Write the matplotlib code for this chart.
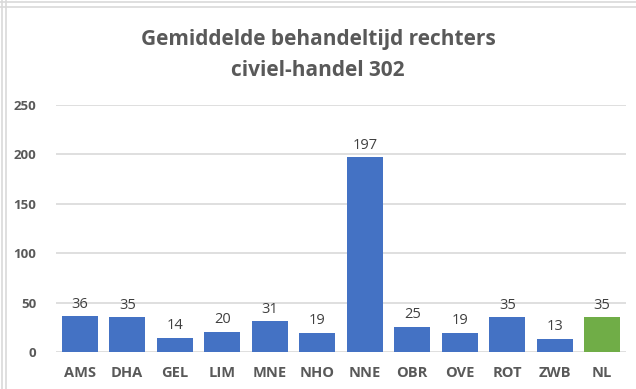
import matplotlib.pyplot as plt
from matplotlib.lines import Line2D

regions = ['AMS', 'DHA', 'GEL', 'LIM', 'MNE', 'NHO', 'NNE', 'OBR', 'OVE', 'ROT', 'ZWB', 'NL']
dagen = [36, 35, 14, 20, 31, 19, 197, 25, 19, 35, 13, 35]
y_ticks = [0, 50, 100, 150, 200, 250]

blue = '#4472C4'
green = '#70AD47'
colors = [green if r == 'NL' else blue for r in regions]

plt.rcParams['font.family'] = ['Open Sans', 'DejaVu Sans']

W, H = 636, 389
fig = plt.figure(figsize=(W / 100, H / 100), dpi=100)
fig.patch.set_facecolor('white')

# frame lines of the chart area
for x in (1.5, 5.5):
    fig.add_artist(Line2D([x / W, x / W], [0, 1], color='#d9d9d9', lw=1.2, transform=fig.transFigure))
for y in (1.5, 6.5):
    fig.add_artist(Line2D([0, 1], [1 - y / H, 1 - y / H], color='#d9d9d9', lw=1.2, transform=fig.transFigure))

ax = fig.add_axes([56 / W, 37 / H, 570 / W, 247 / H])
x = range(len(regions))
bars = ax.bar(x, dagen, width=0.76, color=colors, zorder=3)

for xi, v in zip(x, dagen):
    ax.annotate(str(v), (xi, v), xytext=(0, 3.5), textcoords='offset points',
                ha='center', va='bottom', fontsize=10.5, color='#404040')

ax.set_xlim(-0.5, len(regions) - 0.5)
ax.set_ylim(0, 250)
ax.set_yticks(y_ticks)
ax.set_xticks(list(x))
ax.set_xticklabels(regions, fontsize=10.5, fontweight='bold', color='#595959')
ax.tick_params(axis='y', labelsize=9.5, labelcolor='#595959', length=0, pad=14)
ax.tick_params(axis='x', length=0, pad=10)
for lab in ax.get_yticklabels():
    lab.set_fontweight('bold')
ax.grid(axis='y', color='#d9d9d9', lw=1.2, zorder=0)
for s in ax.spines.values():
    s.set_visible(False)

fig.text(0.5, 1 - 40 / H, 'Gemiddelde behandeltijd rechters', ha='center', va='center',
         fontsize=15, fontweight='bold', color='#595959')
fig.text(0.5, 1 - 70 / H, 'civiel-handel 302', ha='center', va='center',
         fontsize=15, fontweight='bold', color='#595959')

fig.savefig('out.png', dpi=100)
